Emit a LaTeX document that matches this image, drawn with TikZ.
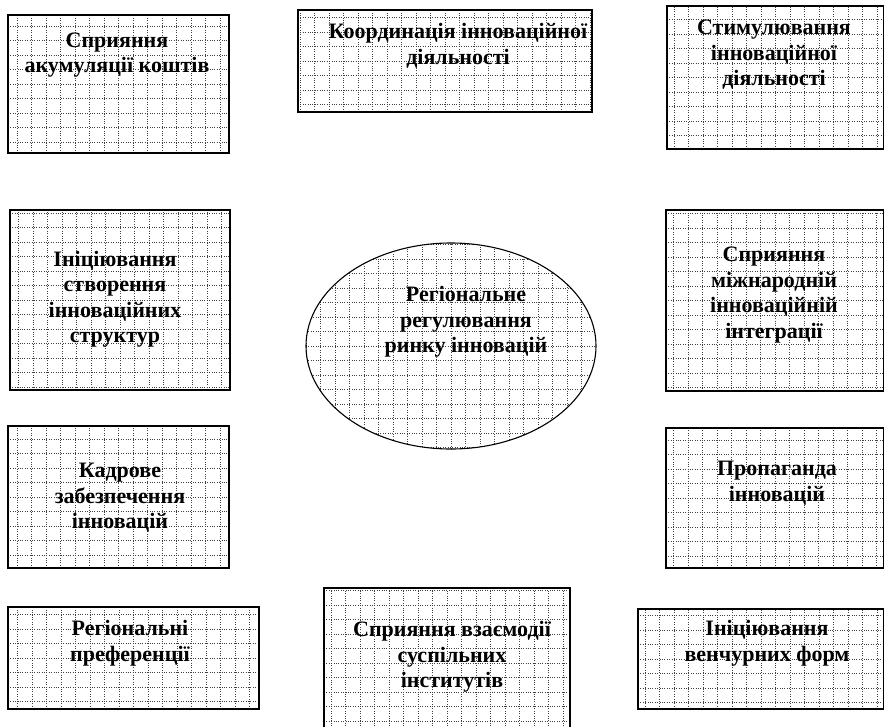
\documentclass[tikz,border=0pt]{standalone}
\usepackage{fontspec}
\setmainfont{Liberation Serif}
\usetikzlibrary{shapes.geometric}

\tikzset{
  gridfill/.style={path picture={
    \draw[black!75, line width=0.7pt, dash pattern=on 0.8pt off 1.6pt, step=14.5pt]
      (path picture bounding box.south west) grid (path picture bounding box.north east);}},
  framebox/.style={draw, rectangle, line width=1.8pt, anchor=north west, inner sep=0pt, gridfill},
  boxtext/.style={font=\bfseries\fontsize{22}{25.5}\selectfont, align=center, inner sep=0pt},
}

\begin{document}
\begin{tikzpicture}[x=1pt,y=-1pt]
\clip (0,0) rectangle (884,726);
\fill[white] (0,0) rectangle (884,726);
% boxes round the centre
\foreach \nm/\x/\y/\w/\h/\tx/\ty/\txt in {
  akum/7/14/221/138/117/55/{Сприяння\\акумуляції коштів},
  koord/297/9/294/102/458/46/{Координація інноваційної\\діяльності},
  stym/666/5/217/143/774/55/{Стимулювання\\інноваційної\\діяльності},
  inic/9/209/220/180/115/299/{Ініціювання\\створення\\інноваційних\\структур},
  mizh/665/209/218/181/774/295/{Сприяння\\міжнародній\\інноваційній\\інтеграції},
  kadr/7/425/221/142/120/498/{Кадрове\\забезпечення\\інновацій},
  pref/7/606/251/102/130/643/{Регіональні\\преференції},
  vzaem/323/587/246/150/452/657/{Сприяння взаємодії\\суспільних\\інститутів},
  prop/665/427/218/140/777/483/{Пропаганда\\інновацій},
  vench/637/608/246/100/767/643/{Ініціювання\\венчурних форм}} {
  \node[framebox, minimum width=\w pt, minimum height=\h pt] (\nm) at (\x,\y) {};
  \node[boxtext] (\nm-text) at (\tx,\ty) {\txt};
}
% centre
\node[draw, ellipse, line width=1.1pt, minimum width=290pt, minimum height=206pt, gridfill] (centre) at (451,346) {};
\node[boxtext] (centre-text) at (466,322) {Регіональне\\регулювання\\ринку інновацій};
\end{tikzpicture}
\end{document}
